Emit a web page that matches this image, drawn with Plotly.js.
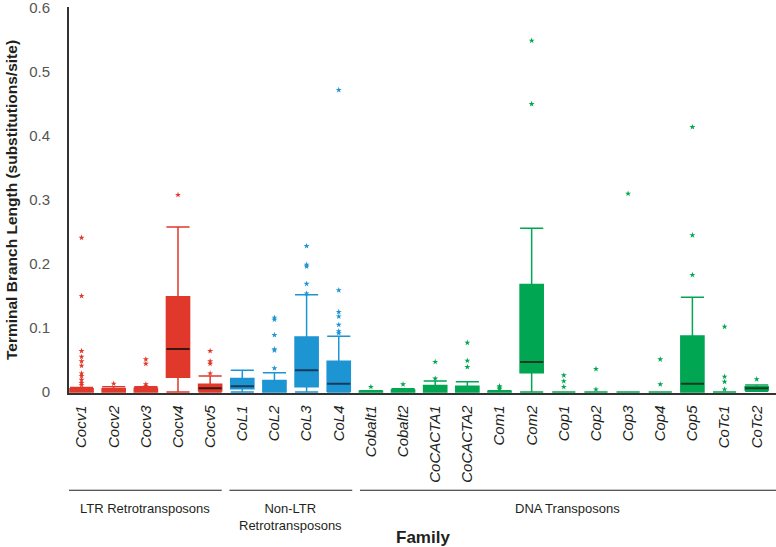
<!DOCTYPE html>
<html>
<head>
<meta charset="utf-8">
<script src="https://cdn.plot.ly/plotly-3.0.1.min.js"></script>
<style>html,body{margin:0;padding:0;background:#fff;}#chart{width:776px;height:547px;}</style>
</head>
<body>
<div id="chart"></div>
<script>
// ---- Data ----
const families = ["Cocv1","Cocv2","Cocv3","Cocv4","Cocv5",
  "CoL1","CoL2","CoL3","CoL4",
  "Cobalt1","Cobalt2","CoCACTA1","CoCACTA2","Com1","Com2","Cop1","Cop2","Cop3","Cop4","Cop5","CoTc1","CoTc2"];
const familyGroup = ["LTR","LTR","LTR","LTR","LTR",
  "NonLTR","NonLTR","NonLTR","NonLTR",
  "DNA","DNA","DNA","DNA","DNA","DNA","DNA","DNA","DNA","DNA","DNA","DNA","DNA"];
const lowerFence = [0,0,0,0,0, 0,0,0,0, 0,0,0,0,0,0,0,0,0,0,0,0,0.001];
const q1 =        [0,0,0,0.023,0.002, 0.005,0,0.008,0.001, 0,0,0,0,0,0.030,0,0,0,0,0,0,0.003];
const medians =   [0,0,0,0.067,0.006, 0.009,0,0.034,0.013, 0,0,0,0,0,0.047,0,0,0,0,0.013,0,0.006];
const q3 =        [0.005,0.005,0.006,0.149,0.012, 0.021,0.018,0.086,0.048, 0.001,0.003,0.010,0.009,0.001,0.168,0,0,0,0,0.0875,0,0.008];
const upperFence =[0.007,0.008,0.008,0.258,0.025, 0.034,0.030,0.152,0.087, 0.002,0.005,0.017,0.016,0.002,0.256,0,0,0,0,0.148,0,0.011];

const outlierFamily = [
  "Cocv1","Cocv1","Cocv1","Cocv1","Cocv1","Cocv1","Cocv1","Cocv1","Cocv1","Cocv1","Cocv1",
  "Cocv2",
  "Cocv3","Cocv3","Cocv3","Cocv3",
  "Cocv4",
  "Cocv5","Cocv5","Cocv5","Cocv5",
  "CoL2","CoL2","CoL2","CoL2","CoL2","CoL2",
  "CoL3","CoL3","CoL3","CoL3","CoL3",
  "CoL4","CoL4","CoL4","CoL4","CoL4","CoL4","CoL4",
  "Cobalt1","Cobalt2",
  "CoCACTA1","CoCACTA1",
  "CoCACTA2","CoCACTA2","CoCACTA2",
  "Com1","Com1","Com1",
  "Com2","Com2",
  "Cop1","Cop1","Cop1",
  "Cop2","Cop2",
  "Cop3",
  "Cop4","Cop4",
  "Cop5","Cop5","Cop5",
  "CoTc1","CoTc1","CoTc1","CoTc1",
  "CoTc2"];
const outlierValue = [
  0.241,0.150,0.064,0.055,0.048,0.041,0.029,0.025,0.019,0.014,0.011,
  0.013,
  0.051,0.044,0.012,0.009,
  0.308,
  0.064,0.048,0.044,0.029,
  0.116,0.089,0.067,0.065,0.037,0.113,
  0.228,0.199,0.196,0.169,0.154,
  0.472,0.159,0.125,0.118,0.105,0.095,0.092,
  0.008,0.012,
  0.047,0.021,
  0.077,0.049,0.039,
  0.009,0.007,0.005,
  0.549,0.450,
  0.026,0.017,0.008,
  0.036,0.004,
  0.310,
  0.051,0.012,
  0.414,0.245,0.183,
  0.102,0.024,0.016,0.004,
  0.020];

const groupNames = ["LTR","NonLTR","DNA"];
const groupColors = {LTR:"#E0382B", NonLTR:"#1D95D3", DNA:"#00A651"};
const medianColors = {LTR:"#3a1511", NonLTR:"#173a5a", DNA:"#123a22"};
const groupLabels = ["LTR Retrotransposons","Non-LTR<br>Retrotransposons","DNA Transposons"];

// ---- Build traces ----
const traces = [];
groupNames.forEach(g => {
  const idx = families.map((f,i)=>i).filter(i => familyGroup[i] === g);
  const pick = arr => idx.map(i => arr[i]);
  traces.push({
    type: "box",
    x: pick(families),
    q1: pick(q1), median: pick(medians), q3: pick(q3),
    lowerfence: pick(lowerFence), upperfence: pick(upperFence),
    width: 0.72, whiskerwidth: 1,
    fillcolor: groupColors[g],
    line: {color: groupColors[g], width: 1.5},
    boxpoints: false, showlegend: false, hoverinfo: "skip"
  });
  // dark median lines
  const midx = idx.filter(i => medians[i] > q1[i]);
  const mp = arr => midx.map(i => arr[i]);
  traces.push({
    type: "box",
    x: mp(families),
    q1: mp(medians), median: mp(medians), q3: mp(medians),
    lowerfence: mp(medians), upperfence: mp(medians),
    width: 0.72, whiskerwidth: 0,
    fillcolor: "rgba(0,0,0,0)",
    line: {color: medianColors[g], width: 2},
    boxpoints: false, showlegend: false, hoverinfo: "skip"
  });
  const oidx = outlierFamily.map((f,i)=>i).filter(i => familyGroup[families.indexOf(outlierFamily[i])] === g);
  traces.push({
    type: "scatter", mode: "markers",
    x: oidx.map(i => outlierFamily[i]),
    y: oidx.map(i => outlierValue[i]),
    marker: {symbol: "star", size: 4.5, color: groupColors[g]},
    showlegend: false, hoverinfo: "skip"
  });
});

// group brackets and labels
const groupSpans = [[-0.39, 4.36],[4.6, 8.42],[8.66, 21.6]];
const shapes = groupSpans.map(s => ({
  type: "line", xref: "x", yref: "paper", x0: s[0], x1: s[1], y0: -0.252, y1: -0.252,
  line: {color: "#231f20", width: 1.2}
}));
const annotations = groupSpans.map((s,k) => ({
  xref: "x", yref: "paper", x: (s[0]+s[1])/2, y: -0.274, yanchor: "top",
  text: groupLabels[k], showarrow: false,
  font: {family: "Liberation Sans Narrow, Arial Narrow, Liberation Sans, Arial, sans-serif", size: 13, color: "#231f20"}
}));
annotations.push({
  xref: "paper", yref: "paper", x: 0.5, y: -0.374, yanchor: "middle",
  text: "<b>Family</b>", showarrow: false,
  font: {family: "Liberation Sans, Arial, sans-serif", size: 17, color: "#231f20"}
});

const layout = {
  width: 776, height: 547,
  margin: {l: 69, r: 0, t: 7, b: 154},
  paper_bgcolor: "#fff", plot_bgcolor: "#fff",
  boxmode: "overlay",
  showlegend: false,
  xaxis: {
    type: "category", categoryorder: "array", categoryarray: families,
    range: [-0.39, 21.6],
    tickangle: -90,
    tickfont: {family: "Liberation Sans, Arial, sans-serif", size: 15, color: "#231f20", style: "italic"},
    ticks: "outside", ticklen: 5, tickcolor: "rgba(0,0,0,0)",
    showline: true, linecolor: "#333", linewidth: 1.5,
    showgrid: false, zeroline: false
  },
  yaxis: {
    range: [-0.0016, 0.6016],
    tickvals: [0,0.1,0.2,0.3,0.4,0.5,0.6],
    ticktext: ["0","0.1","0.2","0.3","0.4","0.5","0.6"],
    tickfont: {family: "Liberation Sans, Arial, sans-serif", size: 15, color: "#555"},
    ticklabeloverflow: "allow",
    ticks: "outside", ticklen: 14, tickcolor: "rgba(0,0,0,0)",
    showline: true, linecolor: "#333", linewidth: 2,
    showgrid: false, zeroline: false,
    title: {text: "<b>Terminal Branch Length (substitutions/site)</b>", standoff: 8,
      font: {family: "Liberation Sans, Arial, sans-serif", size: 15.5, color: "#231f20"}}
  },
  shapes: shapes,
  annotations: annotations
};

Plotly.newPlot("chart", traces, layout, {displayModeBar: false, staticPlot: true});
</script>
</body>
</html>
